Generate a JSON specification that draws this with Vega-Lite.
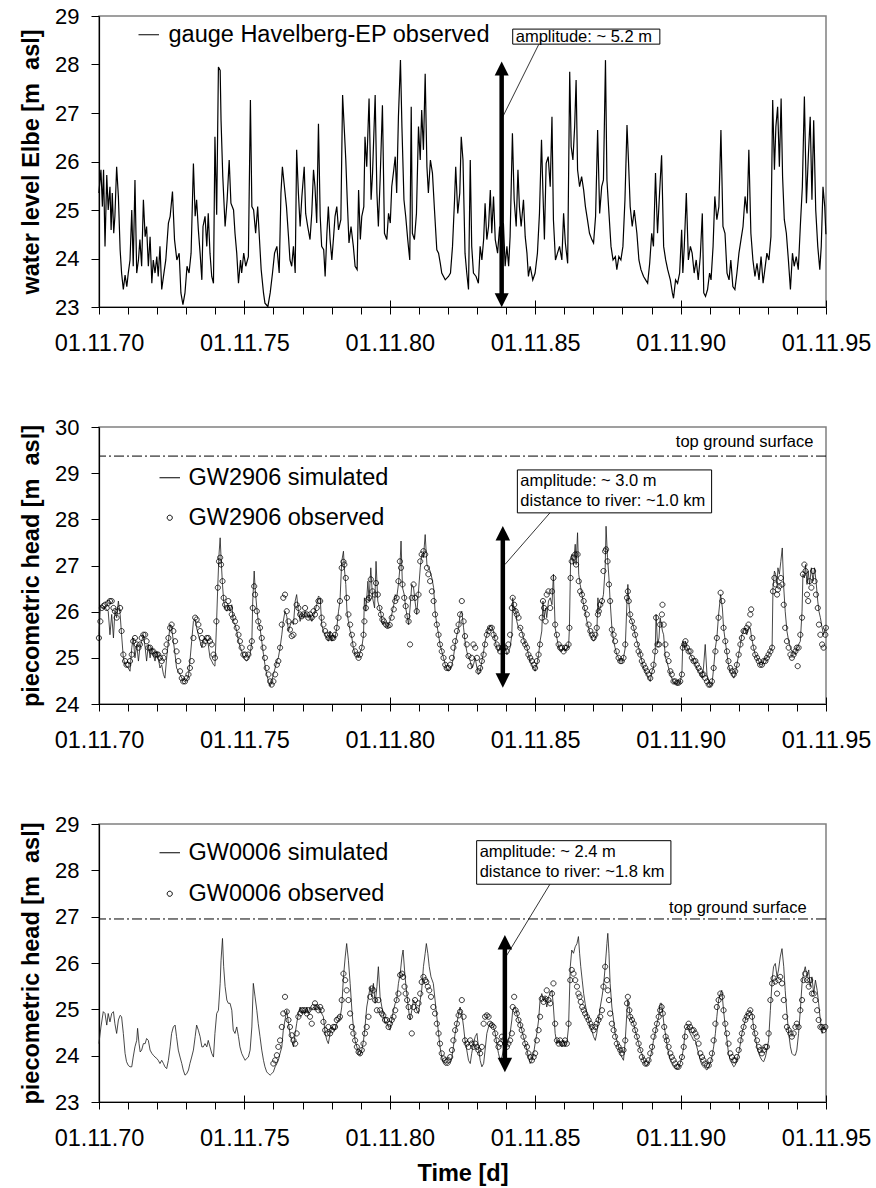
{
"$schema": "https://vega.github.io/schema/vega-lite/v6.json",
"background": "white",
"padding": {"left": 18, "top": 4, "right": 3, "bottom": 4},
"bounds": "flush",
"spacing": 120,
"resolve": {"scale": {"color": "independent", "shape": "independent"}, "legend": {"color": "independent", "shape": "independent"}},
"config": {
 "font": "Liberation Sans",
 "view": {"stroke": "#808080", "strokeWidth": 1.5},
 "axis": {"domainColor": "black", "domainWidth": 1.2, "tickColor": "black", "labelColor": "black", "titleColor": "black", "grid": false, "labelFont": "Liberation Sans", "titleFont": "Liberation Sans"},
 "legend": {"labelFont": "Liberation Sans", "labelColor": "black", "labelLimit": 0}
},
"datasets": {
"elbe": [
{"year":1970.83,"level":25.35},{"year":1970.90,"level":25.83},{"year":1970.95,"level":25.07},{"year":1970.99,"level":25.83},{"year":1971.04,"level":24.25},{"year":1971.10,"level":25.72},{"year":1971.15,"level":25.00},{"year":1971.21,"level":25.48},{"year":1971.25,"level":24.59},{"year":1971.29,"level":25.35},{"year":1971.34,"level":24.52},{"year":1971.38,"level":24.87},{"year":1971.44,"level":25.89},{"year":1971.50,"level":25.28},{"year":1971.56,"level":24.18},{"year":1971.61,"level":23.70},{"year":1971.67,"level":23.36},{"year":1971.73,"level":23.66},{"year":1971.79,"level":23.42},{"year":1971.84,"level":23.70},{"year":1971.90,"level":23.97},{"year":1971.96,"level":25.00},{"year":1972.01,"level":23.84},{"year":1972.07,"level":25.62},{"year":1972.13,"level":23.70},{"year":1972.19,"level":23.97},{"year":1972.24,"level":24.39},{"year":1972.30,"level":23.84},{"year":1972.36,"level":25.21},{"year":1972.42,"level":24.45},{"year":1972.47,"level":24.66},{"year":1972.53,"level":23.84},{"year":1972.59,"level":24.45},{"year":1972.65,"level":23.49},{"year":1972.70,"level":23.97},{"year":1972.76,"level":23.70},{"year":1972.82,"level":24.04},{"year":1972.87,"level":23.63},{"year":1972.93,"level":24.25},{"year":1972.99,"level":23.36},{"year":1973.05,"level":23.63},{"year":1973.13,"level":23.97},{"year":1973.22,"level":24.73},{"year":1973.28,"level":24.87},{"year":1973.36,"level":25.38},{"year":1973.43,"level":24.39},{"year":1973.51,"level":23.97},{"year":1973.59,"level":24.11},{"year":1973.65,"level":23.29},{"year":1973.72,"level":23.05},{"year":1973.79,"level":23.29},{"year":1973.86,"level":23.84},{"year":1973.93,"level":23.70},{"year":1974.00,"level":24.11},{"year":1974.08,"level":25.96},{"year":1974.14,"level":24.87},{"year":1974.19,"level":25.21},{"year":1974.25,"level":24.59},{"year":1974.31,"level":24.11},{"year":1974.37,"level":23.56},{"year":1974.41,"level":24.66},{"year":1974.48,"level":24.87},{"year":1974.54,"level":24.25},{"year":1974.59,"level":24.93},{"year":1974.65,"level":24.11},{"year":1974.71,"level":23.63},{"year":1974.77,"level":23.49},{"year":1974.82,"level":26.51},{"year":1974.88,"level":24.90},{"year":1974.94,"level":27.95},{"year":1975.00,"level":27.88},{"year":1975.03,"level":26.85},{"year":1975.09,"level":25.69},{"year":1975.17,"level":24.66},{"year":1975.24,"level":25.21},{"year":1975.31,"level":26.03},{"year":1975.37,"level":25.14},{"year":1975.46,"level":25.00},{"year":1975.51,"level":24.52},{"year":1975.57,"level":24.11},{"year":1975.63,"level":23.49},{"year":1975.70,"level":23.97},{"year":1975.74,"level":23.70},{"year":1975.81,"level":24.11},{"year":1975.88,"level":23.84},{"year":1975.97,"level":24.04},{"year":1976.04,"level":27.27},{"year":1976.09,"level":25.07},{"year":1976.15,"level":25.00},{"year":1976.22,"level":24.52},{"year":1976.29,"level":25.07},{"year":1976.34,"level":24.52},{"year":1976.41,"level":23.77},{"year":1976.49,"level":23.29},{"year":1976.54,"level":23.08},{"year":1976.64,"level":23.01},{"year":1976.72,"level":23.29},{"year":1976.80,"level":23.70},{"year":1976.87,"level":24.11},{"year":1976.95,"level":24.25},{"year":1977.03,"level":23.70},{"year":1977.09,"level":25.35},{"year":1977.14,"level":25.89},{"year":1977.21,"level":25.48},{"year":1977.28,"level":25.07},{"year":1977.35,"level":24.45},{"year":1977.40,"level":23.97},{"year":1977.46,"level":23.84},{"year":1977.52,"level":24.25},{"year":1977.58,"level":23.70},{"year":1977.63,"level":26.24},{"year":1977.69,"level":25.35},{"year":1977.75,"level":24.66},{"year":1977.81,"level":25.28},{"year":1977.89,"level":25.89},{"year":1977.94,"level":24.93},{"year":1978.01,"level":24.66},{"year":1978.09,"level":24.39},{"year":1978.15,"level":24.93},{"year":1978.21,"level":25.83},{"year":1978.26,"level":25.48},{"year":1978.32,"level":24.73},{"year":1978.38,"level":26.78},{"year":1978.44,"level":24.87},{"year":1978.49,"level":24.25},{"year":1978.56,"level":24.18},{"year":1978.61,"level":23.63},{"year":1978.67,"level":24.52},{"year":1978.72,"level":25.07},{"year":1978.78,"level":24.39},{"year":1978.84,"level":23.97},{"year":1978.90,"level":24.45},{"year":1978.95,"level":24.87},{"year":1979.01,"level":25.07},{"year":1979.07,"level":24.59},{"year":1979.15,"level":24.80},{"year":1979.21,"level":27.37},{"year":1979.27,"level":26.65},{"year":1979.32,"level":26.03},{"year":1979.37,"level":25.21},{"year":1979.43,"level":24.32},{"year":1979.50,"level":24.66},{"year":1979.58,"level":24.25},{"year":1979.64,"level":23.84},{"year":1979.71,"level":23.77},{"year":1979.76,"level":25.41},{"year":1979.82,"level":24.39},{"year":1979.87,"level":24.87},{"year":1979.94,"level":25.07},{"year":1979.98,"level":26.51},{"year":1980.04,"level":25.89},{"year":1980.12,"level":27.30},{"year":1980.19,"level":25.21},{"year":1980.24,"level":25.76},{"year":1980.33,"level":27.37},{"year":1980.39,"level":25.35},{"year":1980.44,"level":24.66},{"year":1980.50,"level":25.62},{"year":1980.58,"level":27.16},{"year":1980.65,"level":24.52},{"year":1980.73,"level":24.39},{"year":1980.79,"level":24.93},{"year":1980.85,"level":24.73},{"year":1980.90,"level":25.48},{"year":1980.97,"level":25.83},{"year":1981.02,"level":26.10},{"year":1981.07,"level":25.35},{"year":1981.13,"level":26.92},{"year":1981.20,"level":28.09},{"year":1981.25,"level":26.72},{"year":1981.32,"level":25.21},{"year":1981.38,"level":24.87},{"year":1981.45,"level":24.39},{"year":1981.52,"level":23.97},{"year":1981.57,"level":27.13},{"year":1981.61,"level":24.52},{"year":1981.68,"level":24.39},{"year":1981.75,"level":24.93},{"year":1981.82,"level":26.72},{"year":1981.88,"level":26.03},{"year":1981.93,"level":27.06},{"year":1981.99,"level":26.24},{"year":1982.05,"level":27.81},{"year":1982.11,"level":25.89},{"year":1982.16,"level":25.35},{"year":1982.23,"level":26.03},{"year":1982.30,"level":25.76},{"year":1982.37,"level":25.00},{"year":1982.45,"level":24.18},{"year":1982.51,"level":24.11},{"year":1982.57,"level":23.90},{"year":1982.62,"level":23.70},{"year":1982.74,"level":23.56},{"year":1982.85,"level":23.63},{"year":1982.92,"level":23.70},{"year":1982.99,"level":24.25},{"year":1983.06,"level":25.21},{"year":1983.10,"level":25.89},{"year":1983.17,"level":24.93},{"year":1983.24,"level":25.35},{"year":1983.29,"level":26.51},{"year":1983.35,"level":26.03},{"year":1983.42,"level":24.11},{"year":1983.48,"level":23.70},{"year":1983.54,"level":23.36},{"year":1983.60,"level":26.03},{"year":1983.65,"level":24.25},{"year":1983.71,"level":23.70},{"year":1983.80,"level":23.63},{"year":1983.88,"level":23.49},{"year":1983.94,"level":24.25},{"year":1984.00,"level":23.97},{"year":1984.06,"level":24.39},{"year":1984.11,"level":25.14},{"year":1984.17,"level":24.39},{"year":1984.23,"level":24.66},{"year":1984.29,"level":25.41},{"year":1984.34,"level":24.52},{"year":1984.40,"level":25.28},{"year":1984.46,"level":24.39},{"year":1984.54,"level":24.11},{"year":1984.61,"level":24.66},{"year":1984.68,"level":23.97},{"year":1984.74,"level":24.73},{"year":1984.80,"level":23.84},{"year":1984.86,"level":24.25},{"year":1984.92,"level":23.84},{"year":1984.97,"level":24.45},{"year":1985.05,"level":26.58},{"year":1985.11,"level":25.21},{"year":1985.18,"level":24.66},{"year":1985.24,"level":25.83},{"year":1985.29,"level":25.07},{"year":1985.35,"level":24.66},{"year":1985.43,"level":25.21},{"year":1985.49,"level":24.45},{"year":1985.55,"level":24.11},{"year":1985.60,"level":23.63},{"year":1985.66,"level":23.84},{"year":1985.75,"level":23.56},{"year":1985.83,"level":23.70},{"year":1985.91,"level":24.11},{"year":1985.98,"level":24.93},{"year":1986.05,"level":26.45},{"year":1986.10,"level":25.35},{"year":1986.15,"level":24.39},{"year":1986.21,"level":25.96},{"year":1986.28,"level":26.10},{"year":1986.35,"level":25.48},{"year":1986.41,"level":26.92},{"year":1986.46,"level":24.80},{"year":1986.53,"level":23.97},{"year":1986.60,"level":24.11},{"year":1986.67,"level":24.25},{"year":1986.75,"level":23.97},{"year":1986.81,"level":24.93},{"year":1986.87,"level":24.32},{"year":1986.95,"level":23.90},{"year":1987.02,"level":27.85},{"year":1987.07,"level":26.31},{"year":1987.13,"level":26.03},{"year":1987.19,"level":26.72},{"year":1987.24,"level":27.68},{"year":1987.29,"level":25.83},{"year":1987.36,"level":25.48},{"year":1987.43,"level":25.69},{"year":1987.50,"level":25.41},{"year":1987.56,"level":25.07},{"year":1987.63,"level":24.80},{"year":1987.70,"level":24.52},{"year":1987.78,"level":24.39},{"year":1987.84,"level":24.32},{"year":1987.91,"level":24.87},{"year":1987.98,"level":26.65},{"year":1988.05,"level":24.93},{"year":1988.12,"level":25.48},{"year":1988.18,"level":25.62},{"year":1988.25,"level":28.09},{"year":1988.30,"level":25.62},{"year":1988.37,"level":24.93},{"year":1988.44,"level":24.25},{"year":1988.51,"level":23.97},{"year":1988.59,"level":24.04},{"year":1988.64,"level":23.77},{"year":1988.71,"level":24.04},{"year":1988.78,"level":23.97},{"year":1988.85,"level":24.25},{"year":1988.92,"level":25.21},{"year":1988.99,"level":26.75},{"year":1989.04,"level":26.03},{"year":1989.10,"level":25.07},{"year":1989.17,"level":24.66},{"year":1989.24,"level":25.00},{"year":1989.33,"level":24.52},{"year":1989.40,"level":23.97},{"year":1989.47,"level":23.77},{"year":1989.56,"level":23.63},{"year":1989.63,"level":23.56},{"year":1989.70,"level":23.49},{"year":1989.77,"level":23.90},{"year":1989.84,"level":24.52},{"year":1989.90,"level":24.25},{"year":1989.97,"level":25.76},{"year":1990.04,"level":24.52},{"year":1990.11,"level":25.35},{"year":1990.18,"level":26.13},{"year":1990.25,"level":24.25},{"year":1990.32,"level":23.97},{"year":1990.39,"level":23.77},{"year":1990.48,"level":23.56},{"year":1990.55,"level":23.29},{"year":1990.59,"level":23.18},{"year":1990.66,"level":23.56},{"year":1990.73,"level":23.49},{"year":1990.80,"level":23.70},{"year":1990.87,"level":24.59},{"year":1990.91,"level":23.70},{"year":1990.96,"level":24.25},{"year":1991.03,"level":25.35},{"year":1991.10,"level":23.97},{"year":1991.17,"level":24.25},{"year":1991.23,"level":24.11},{"year":1991.30,"level":23.70},{"year":1991.37,"level":23.97},{"year":1991.44,"level":23.56},{"year":1991.51,"level":24.04},{"year":1991.58,"level":24.93},{"year":1991.63,"level":23.29},{"year":1991.69,"level":23.22},{"year":1991.76,"level":23.36},{"year":1991.83,"level":23.70},{"year":1991.88,"level":23.56},{"year":1991.95,"level":24.25},{"year":1992.01,"level":25.28},{"year":1992.08,"level":24.80},{"year":1992.15,"level":25.07},{"year":1992.22,"level":26.65},{"year":1992.29,"level":24.66},{"year":1992.36,"level":24.52},{"year":1992.43,"level":23.70},{"year":1992.50,"level":23.56},{"year":1992.56,"level":23.97},{"year":1992.63,"level":23.42},{"year":1992.70,"level":23.36},{"year":1992.77,"level":23.70},{"year":1992.84,"level":24.11},{"year":1992.91,"level":24.39},{"year":1992.98,"level":24.66},{"year":1993.05,"level":25.28},{"year":1993.12,"level":24.93},{"year":1993.18,"level":26.24},{"year":1993.25,"level":24.52},{"year":1993.32,"level":23.97},{"year":1993.39,"level":23.63},{"year":1993.46,"level":23.90},{"year":1993.53,"level":23.56},{"year":1993.60,"level":24.04},{"year":1993.67,"level":23.49},{"year":1993.73,"level":23.77},{"year":1993.80,"level":24.11},{"year":1993.87,"level":23.97},{"year":1993.94,"level":24.45},{"year":1994.00,"level":27.27},{"year":1994.06,"level":25.83},{"year":1994.11,"level":26.72},{"year":1994.17,"level":27.13},{"year":1994.23,"level":25.89},{"year":1994.29,"level":27.30},{"year":1994.34,"level":25.69},{"year":1994.40,"level":24.80},{"year":1994.47,"level":24.52},{"year":1994.54,"level":23.97},{"year":1994.61,"level":23.36},{"year":1994.68,"level":24.11},{"year":1994.74,"level":23.84},{"year":1994.81,"level":24.04},{"year":1994.88,"level":23.77},{"year":1994.95,"level":24.66},{"year":1995.02,"level":25.48},{"year":1995.09,"level":27.34},{"year":1995.16,"level":25.14},{"year":1995.23,"level":26.17},{"year":1995.29,"level":26.92},{"year":1995.35,"level":25.21},{"year":1995.41,"level":26.85},{"year":1995.48,"level":25.00},{"year":1995.55,"level":24.25},{"year":1995.62,"level":23.77},{"year":1995.67,"level":24.25},{"year":1995.73,"level":25.48},{"year":1995.79,"level":25.07},{"year":1995.83,"level":24.50}
],
"gw2906": [
{"year":1970.83,"sim":25.50,"obs":25.43},{"year":1970.88,"sim":26.12,"obs":25.79},{"year":1970.93,"sim":26.10,"obs":26.08},{"year":1970.98,"sim":26.08,"obs":26.12},{"year":1971.04,"sim":26.08,"obs":26.15},{"year":1971.10,"sim":26.05,"obs":26.08},{"year":1971.15,"sim":26.01,"obs":26.19},{"year":1971.21,"sim":25.50,"obs":26.23},{"year":1971.27,"sim":25.94,"obs":26.23},{"year":1971.33,"sim":25.43,"obs":26.08},{"year":1971.38,"sim":26.01,"obs":26.01},{"year":1971.44,"sim":25.87,"obs":25.87},{"year":1971.50,"sim":26.23,"obs":26.01},{"year":1971.56,"sim":25.94,"obs":26.08},{"year":1971.61,"sim":25.50,"obs":25.58},{"year":1971.67,"sim":25.00,"obs":25.07},{"year":1971.73,"sim":24.85,"obs":24.93},{"year":1971.78,"sim":24.82,"obs":24.85},{"year":1971.84,"sim":24.78,"obs":24.85},{"year":1971.90,"sim":24.71,"obs":24.93},{"year":1971.96,"sim":25.22,"obs":25.07},{"year":1972.01,"sim":25.43,"obs":25.36},{"year":1972.07,"sim":25.00,"obs":25.43},{"year":1972.13,"sim":25.29,"obs":25.29},{"year":1972.19,"sim":24.93,"obs":25.22},{"year":1972.24,"sim":25.22,"obs":25.29},{"year":1972.30,"sim":25.36,"obs":25.43},{"year":1972.36,"sim":25.50,"obs":25.50},{"year":1972.42,"sim":25.22,"obs":25.50},{"year":1972.47,"sim":24.93,"obs":25.36},{"year":1972.53,"sim":25.29,"obs":25.22},{"year":1972.59,"sim":25.00,"obs":25.22},{"year":1972.65,"sim":25.22,"obs":25.14},{"year":1972.70,"sim":25.07,"obs":25.14},{"year":1972.76,"sim":24.93,"obs":25.07},{"year":1972.82,"sim":25.14,"obs":25.07},{"year":1972.87,"sim":25.00,"obs":25.07},{"year":1972.93,"sim":24.78,"obs":25.00},{"year":1972.99,"sim":24.85,"obs":24.93},{"year":1973.05,"sim":24.64,"obs":25.00},{"year":1973.10,"sim":24.56,"obs":25.14},{"year":1973.16,"sim":25.00,"obs":25.29},{"year":1973.22,"sim":25.36,"obs":25.43},{"year":1973.28,"sim":25.72,"obs":25.65},{"year":1973.33,"sim":25.65,"obs":25.72},{"year":1973.39,"sim":25.36,"obs":25.58},{"year":1973.45,"sim":25.07,"obs":25.36},{"year":1973.50,"sim":24.78,"obs":25.14},{"year":1973.56,"sim":24.71,"obs":24.93},{"year":1973.62,"sim":24.64,"obs":24.71},{"year":1973.68,"sim":24.56,"obs":24.56},{"year":1973.73,"sim":24.51,"obs":24.49},{"year":1973.79,"sim":24.49,"obs":24.49},{"year":1973.85,"sim":24.53,"obs":24.56},{"year":1973.91,"sim":24.60,"obs":24.64},{"year":1973.96,"sim":24.93,"obs":24.78},{"year":1974.02,"sim":25.36,"obs":24.93},{"year":1974.08,"sim":25.79,"obs":25.43},{"year":1974.14,"sim":25.83,"obs":25.87},{"year":1974.19,"sim":25.65,"obs":25.83},{"year":1974.25,"sim":25.50,"obs":25.72},{"year":1974.31,"sim":25.36,"obs":25.58},{"year":1974.37,"sim":25.22,"obs":25.43},{"year":1974.42,"sim":25.36,"obs":25.29},{"year":1974.48,"sim":25.43,"obs":25.36},{"year":1974.54,"sim":25.36,"obs":25.43},{"year":1974.59,"sim":25.29,"obs":25.43},{"year":1974.65,"sim":25.00,"obs":25.36},{"year":1974.71,"sim":24.93,"obs":25.29},{"year":1974.77,"sim":24.85,"obs":25.07},{"year":1974.82,"sim":24.82,"obs":25.00},{"year":1974.87,"sim":25.65,"obs":25.79},{"year":1974.92,"sim":26.59,"obs":26.52},{"year":1974.96,"sim":27.24,"obs":27.09},{"year":1975.00,"sim":27.60,"obs":27.17},{"year":1975.03,"sim":27.17,"obs":27.02},{"year":1975.08,"sim":26.59,"obs":26.66},{"year":1975.12,"sim":26.23,"obs":26.30},{"year":1975.17,"sim":26.08,"obs":26.15},{"year":1975.23,"sim":26.01,"obs":26.08},{"year":1975.28,"sim":26.15,"obs":26.23},{"year":1975.34,"sim":26.01,"obs":26.08},{"year":1975.40,"sim":26.15,"obs":25.94},{"year":1975.45,"sim":25.79,"obs":25.87},{"year":1975.51,"sim":25.72,"obs":25.79},{"year":1975.57,"sim":25.58,"obs":25.65},{"year":1975.63,"sim":25.36,"obs":25.50},{"year":1975.68,"sim":25.25,"obs":25.36},{"year":1975.74,"sim":25.14,"obs":25.22},{"year":1975.80,"sim":25.00,"obs":25.07},{"year":1975.86,"sim":24.96,"obs":25.07},{"year":1975.91,"sim":24.93,"obs":25.00},{"year":1975.97,"sim":25.00,"obs":25.07},{"year":1976.03,"sim":25.07,"obs":25.22},{"year":1976.09,"sim":25.36,"obs":25.36},{"year":1976.12,"sim":26.23,"obs":26.08},{"year":1976.17,"sim":26.88,"obs":26.55},{"year":1976.20,"sim":26.52,"obs":26.37},{"year":1976.26,"sim":26.08,"obs":26.01},{"year":1976.31,"sim":25.79,"obs":25.79},{"year":1976.37,"sim":25.65,"obs":25.65},{"year":1976.43,"sim":25.36,"obs":25.43},{"year":1976.49,"sim":25.07,"obs":25.22},{"year":1976.54,"sim":24.85,"obs":25.00},{"year":1976.60,"sim":24.64,"obs":24.78},{"year":1976.66,"sim":24.49,"obs":24.64},{"year":1976.72,"sim":24.38,"obs":24.49},{"year":1976.77,"sim":24.49,"obs":24.42},{"year":1976.83,"sim":24.64,"obs":24.49},{"year":1976.89,"sim":24.78,"obs":24.64},{"year":1976.95,"sim":24.93,"obs":24.85},{"year":1977.00,"sim":25.00,"obs":24.93},{"year":1977.06,"sim":25.22,"obs":25.22},{"year":1977.12,"sim":25.50,"obs":25.72},{"year":1977.17,"sim":25.79,"obs":26.30},{"year":1977.23,"sim":26.01,"obs":26.37},{"year":1977.29,"sim":25.90,"obs":26.01},{"year":1977.35,"sim":25.58,"obs":25.79},{"year":1977.40,"sim":25.69,"obs":25.61},{"year":1977.46,"sim":25.79,"obs":25.47},{"year":1977.52,"sim":25.72,"obs":25.50},{"year":1977.58,"sim":26.23,"obs":25.79},{"year":1977.63,"sim":26.37,"obs":26.15},{"year":1977.69,"sim":26.01,"obs":26.08},{"year":1977.75,"sim":25.79,"obs":25.94},{"year":1977.81,"sim":25.94,"obs":25.90},{"year":1977.86,"sim":25.87,"obs":25.94},{"year":1977.92,"sim":26.01,"obs":26.08},{"year":1977.98,"sim":25.94,"obs":25.94},{"year":1978.03,"sim":25.87,"obs":25.87},{"year":1978.09,"sim":25.94,"obs":25.94},{"year":1978.15,"sim":25.79,"obs":25.87},{"year":1978.21,"sim":25.90,"obs":26.01},{"year":1978.26,"sim":26.01,"obs":25.94},{"year":1978.32,"sim":26.15,"obs":26.08},{"year":1978.38,"sim":26.34,"obs":26.23},{"year":1978.44,"sim":26.30,"obs":26.23},{"year":1978.49,"sim":25.72,"obs":25.87},{"year":1978.55,"sim":25.58,"obs":25.72},{"year":1978.61,"sim":25.50,"obs":25.58},{"year":1978.67,"sim":25.43,"obs":25.50},{"year":1978.72,"sim":25.36,"obs":25.43},{"year":1978.78,"sim":25.58,"obs":25.50},{"year":1978.84,"sim":25.36,"obs":25.43},{"year":1978.89,"sim":25.50,"obs":25.43},{"year":1978.95,"sim":25.43,"obs":25.50},{"year":1979.01,"sim":25.65,"obs":25.65},{"year":1979.07,"sim":26.01,"obs":25.87},{"year":1979.12,"sim":26.23,"obs":26.23},{"year":1979.18,"sim":27.09,"obs":26.95},{"year":1979.24,"sim":27.31,"obs":27.08},{"year":1979.27,"sim":26.95,"obs":27.02},{"year":1979.32,"sim":26.59,"obs":26.73},{"year":1979.36,"sim":26.01,"obs":26.30},{"year":1979.41,"sim":25.79,"obs":25.94},{"year":1979.47,"sim":25.58,"obs":25.72},{"year":1979.53,"sim":25.43,"obs":25.50},{"year":1979.58,"sim":25.22,"obs":25.29},{"year":1979.64,"sim":25.07,"obs":25.14},{"year":1979.70,"sim":25.04,"obs":25.07},{"year":1979.76,"sim":25.00,"obs":25.00},{"year":1979.81,"sim":25.11,"obs":25.07},{"year":1979.87,"sim":25.22,"obs":25.22},{"year":1979.93,"sim":25.50,"obs":25.50},{"year":1979.96,"sim":26.30,"obs":25.79},{"year":1980.01,"sim":26.01,"obs":26.08},{"year":1980.08,"sim":26.66,"obs":26.26},{"year":1980.12,"sim":26.23,"obs":26.30},{"year":1980.18,"sim":26.95,"obs":26.70},{"year":1980.24,"sim":26.30,"obs":26.44},{"year":1980.31,"sim":26.08,"obs":26.37},{"year":1980.36,"sim":27.09,"obs":26.62},{"year":1980.42,"sim":26.23,"obs":26.37},{"year":1980.48,"sim":26.08,"obs":26.08},{"year":1980.53,"sim":25.94,"obs":25.94},{"year":1980.58,"sim":25.72,"obs":25.83},{"year":1980.63,"sim":25.79,"obs":25.79},{"year":1980.70,"sim":25.72,"obs":25.72},{"year":1980.76,"sim":25.65,"obs":25.69},{"year":1980.83,"sim":25.79,"obs":25.71},{"year":1980.90,"sim":25.94,"obs":25.87},{"year":1980.97,"sim":26.15,"obs":26.05},{"year":1981.02,"sim":26.37,"obs":26.23},{"year":1981.07,"sim":26.30,"obs":26.30},{"year":1981.13,"sim":26.59,"obs":26.66},{"year":1981.18,"sim":26.95,"obs":27.09},{"year":1981.22,"sim":27.53,"obs":26.95},{"year":1981.27,"sim":26.52,"obs":26.59},{"year":1981.33,"sim":26.37,"obs":26.30},{"year":1981.38,"sim":26.08,"obs":26.12},{"year":1981.44,"sim":25.87,"obs":25.90},{"year":1981.48,"sim":25.72,"obs":25.79},{"year":1981.53,"sim":26.08,"obs":25.29},{"year":1981.59,"sim":26.59,"obs":26.30},{"year":1981.65,"sim":26.52,"obs":26.59},{"year":1981.70,"sim":26.23,"obs":26.30},{"year":1981.76,"sim":25.94,"obs":26.01},{"year":1981.82,"sim":26.44,"obs":26.37},{"year":1981.88,"sim":26.95,"obs":27.09},{"year":1981.93,"sim":27.24,"obs":27.24},{"year":1981.99,"sim":27.17,"obs":27.31},{"year":1982.05,"sim":27.67,"obs":27.24},{"year":1982.11,"sim":27.02,"obs":26.95},{"year":1982.16,"sim":26.95,"obs":26.81},{"year":1982.22,"sim":26.88,"obs":26.66},{"year":1982.28,"sim":26.73,"obs":26.44},{"year":1982.34,"sim":26.52,"obs":26.23},{"year":1982.39,"sim":26.01,"obs":25.94},{"year":1982.45,"sim":25.72,"obs":25.72},{"year":1982.51,"sim":25.50,"obs":25.50},{"year":1982.56,"sim":25.29,"obs":25.29},{"year":1982.62,"sim":25.14,"obs":25.14},{"year":1982.68,"sim":25.00,"obs":25.00},{"year":1982.74,"sim":24.85,"obs":24.85},{"year":1982.79,"sim":24.78,"obs":24.78},{"year":1982.85,"sim":24.71,"obs":24.78},{"year":1982.91,"sim":24.75,"obs":24.85},{"year":1982.97,"sim":24.85,"obs":25.00},{"year":1983.02,"sim":25.00,"obs":25.22},{"year":1983.08,"sim":25.29,"obs":25.36},{"year":1983.14,"sim":25.50,"obs":25.58},{"year":1983.20,"sim":25.65,"obs":25.72},{"year":1983.25,"sim":25.94,"obs":25.94},
{"year":1983.31,"sim":26.01,"obs":26.23},{"year":1983.37,"sim":25.65,"obs":25.79},{"year":1983.42,"sim":25.36,"obs":25.47},{"year":1983.48,"sim":25.14,"obs":25.29},{"year":1983.54,"sim":25.00,"obs":25.04},{"year":1983.60,"sim":24.93,"obs":24.82},{"year":1983.65,"sim":24.78,"obs":25.00},{"year":1983.71,"sim":24.85,"obs":25.29},{"year":1983.77,"sim":25.00,"obs":25.22},{"year":1983.83,"sim":24.78,"obs":25.00},{"year":1983.88,"sim":24.64,"obs":24.71},{"year":1983.94,"sim":24.71,"obs":24.78},{"year":1984.00,"sim":24.93,"obs":24.93},{"year":1984.06,"sim":25.14,"obs":25.07},{"year":1984.11,"sim":25.36,"obs":25.29},{"year":1984.17,"sim":25.50,"obs":25.50},{"year":1984.23,"sim":25.65,"obs":25.58},{"year":1984.28,"sim":25.69,"obs":25.65},{"year":1984.34,"sim":25.65,"obs":25.65},{"year":1984.40,"sim":25.58,"obs":25.50},{"year":1984.46,"sim":25.36,"obs":25.43},{"year":1984.51,"sim":25.22,"obs":25.29},{"year":1984.57,"sim":25.14,"obs":25.22},{"year":1984.63,"sim":25.22,"obs":25.14},{"year":1984.69,"sim":25.29,"obs":25.22},{"year":1984.74,"sim":25.14,"obs":25.22},{"year":1984.80,"sim":25.22,"obs":25.22},{"year":1984.86,"sim":25.07,"obs":25.14},{"year":1984.91,"sim":25.14,"obs":25.29},{"year":1984.97,"sim":25.22,"obs":25.50},{"year":1985.03,"sim":25.50,"obs":26.08},{"year":1985.06,"sim":26.30,"obs":26.30},{"year":1985.11,"sim":26.01,"obs":26.15},{"year":1985.16,"sim":26.08,"obs":26.01},{"year":1985.20,"sim":25.79,"obs":25.94},{"year":1985.26,"sim":25.65,"obs":25.87},{"year":1985.32,"sim":25.65,"obs":25.65},{"year":1985.37,"sim":25.58,"obs":25.50},{"year":1985.43,"sim":25.43,"obs":25.36},{"year":1985.49,"sim":25.29,"obs":25.29},{"year":1985.55,"sim":25.22,"obs":25.22},{"year":1985.60,"sim":25.07,"obs":25.07},{"year":1985.66,"sim":24.93,"obs":25.00},{"year":1985.72,"sim":24.85,"obs":24.93},{"year":1985.78,"sim":24.78,"obs":24.85},{"year":1985.83,"sim":24.71,"obs":24.78},{"year":1985.89,"sim":24.85,"obs":24.93},{"year":1985.95,"sim":25.07,"obs":25.07},{"year":1986.00,"sim":25.36,"obs":25.29},{"year":1986.06,"sim":25.58,"obs":25.87},{"year":1986.10,"sim":26.23,"obs":26.23},{"year":1986.14,"sim":25.87,"obs":26.08},{"year":1986.19,"sim":26.08,"obs":25.79},{"year":1986.23,"sim":25.87,"obs":26.37},{"year":1986.29,"sim":26.23,"obs":26.44},{"year":1986.35,"sim":26.30,"obs":26.08},{"year":1986.41,"sim":26.15,"obs":26.44},{"year":1986.46,"sim":26.81,"obs":26.73},{"year":1986.52,"sim":25.65,"obs":25.72},{"year":1986.58,"sim":25.43,"obs":25.50},{"year":1986.64,"sim":25.22,"obs":25.29},{"year":1986.69,"sim":25.14,"obs":25.22},{"year":1986.75,"sim":25.14,"obs":25.22},{"year":1986.81,"sim":25.22,"obs":25.14},{"year":1986.86,"sim":25.14,"obs":25.22},{"year":1986.92,"sim":25.22,"obs":25.22},{"year":1986.98,"sim":25.22,"obs":25.29},{"year":1987.01,"sim":25.65,"obs":25.65},{"year":1987.05,"sim":27.09,"obs":26.73},{"year":1987.09,"sim":27.24,"obs":27.09},{"year":1987.15,"sim":27.02,"obs":27.17},{"year":1987.21,"sim":27.46,"obs":27.24},{"year":1987.24,"sim":27.02,"obs":27.02},{"year":1987.29,"sim":27.71,"obs":27.24},{"year":1987.33,"sim":26.81,"obs":26.66},{"year":1987.38,"sim":26.59,"obs":26.44},{"year":1987.44,"sim":26.37,"obs":26.37},{"year":1987.50,"sim":26.15,"obs":26.23},{"year":1987.55,"sim":26.01,"obs":26.08},{"year":1987.61,"sim":25.79,"obs":25.94},{"year":1987.67,"sim":25.65,"obs":25.72},{"year":1987.73,"sim":25.50,"obs":25.58},{"year":1987.78,"sim":25.43,"obs":25.50},{"year":1987.84,"sim":25.36,"obs":25.43},{"year":1987.90,"sim":25.43,"obs":25.50},{"year":1987.95,"sim":25.50,"obs":25.65},{"year":1987.99,"sim":26.30,"obs":25.94},{"year":1988.02,"sim":26.01,"obs":26.01},{"year":1988.07,"sim":26.08,"obs":26.15},{"year":1988.13,"sim":26.23,"obs":26.23},{"year":1988.18,"sim":26.37,"obs":26.88},{"year":1988.24,"sim":26.95,"obs":27.31},{"year":1988.27,"sim":27.85,"obs":27.35},{"year":1988.32,"sim":27.17,"obs":27.09},{"year":1988.37,"sim":26.73,"obs":26.59},{"year":1988.41,"sim":26.23,"obs":26.23},{"year":1988.47,"sim":25.65,"obs":25.61},{"year":1988.53,"sim":25.36,"obs":25.50},{"year":1988.58,"sim":25.22,"obs":25.36},{"year":1988.64,"sim":25.07,"obs":25.14},{"year":1988.70,"sim":25.00,"obs":25.00},{"year":1988.76,"sim":24.93,"obs":24.93},{"year":1988.81,"sim":24.93,"obs":24.93},{"year":1988.87,"sim":25.00,"obs":25.00},{"year":1988.93,"sim":25.22,"obs":25.29},{"year":1988.99,"sim":26.23,"obs":26.30},{"year":1989.02,"sim":26.59,"obs":26.44},{"year":1989.05,"sim":26.23,"obs":26.23},{"year":1989.10,"sim":25.87,"obs":25.94},{"year":1989.16,"sim":25.79,"obs":25.79},{"year":1989.22,"sim":25.65,"obs":25.65},{"year":1989.27,"sim":25.50,"obs":25.50},{"year":1989.33,"sim":25.36,"obs":25.29},{"year":1989.39,"sim":25.22,"obs":25.14},{"year":1989.45,"sim":25.07,"obs":25.07},{"year":1989.50,"sim":24.93,"obs":24.93},{"year":1989.56,"sim":24.78,"obs":24.85},{"year":1989.62,"sim":24.71,"obs":24.78},{"year":1989.67,"sim":24.64,"obs":24.71},{"year":1989.73,"sim":24.56,"obs":24.64},{"year":1989.79,"sim":24.49,"obs":24.56},{"year":1989.85,"sim":24.71,"obs":24.71},{"year":1989.90,"sim":24.78,"obs":24.85},{"year":1989.96,"sim":25.14,"obs":25.14},{"year":1989.99,"sim":25.94,"obs":25.87},{"year":1990.04,"sim":25.29,"obs":25.29},{"year":1990.09,"sim":25.43,"obs":25.29},{"year":1990.13,"sim":25.87,"obs":25.72},{"year":1990.19,"sim":25.65,"obs":25.94},{"year":1990.21,"sim":25.58,"obs":26.15},{"year":1990.25,"sim":25.50,"obs":25.72},{"year":1990.31,"sim":25.00,"obs":25.29},{"year":1990.36,"sim":24.93,"obs":25.07},{"year":1990.42,"sim":24.78,"obs":24.93},{"year":1990.48,"sim":24.64,"obs":24.71},{"year":1990.53,"sim":24.56,"obs":24.64},{"year":1990.59,"sim":24.46,"obs":24.49},{"year":1990.65,"sim":24.46,"obs":24.49},{"year":1990.71,"sim":24.42,"obs":24.46},{"year":1990.76,"sim":24.49,"obs":24.46},{"year":1990.82,"sim":24.46,"obs":24.49},{"year":1990.88,"sim":24.71,"obs":24.64},{"year":1990.91,"sim":25.36,"obs":25.22},{"year":1990.96,"sim":25.22,"obs":25.29},{"year":1991.00,"sim":25.36,"obs":25.36},{"year":1991.05,"sim":25.22,"obs":25.22},{"year":1991.11,"sim":25.14,"obs":25.14},{"year":1991.17,"sim":25.07,"obs":25.14},{"year":1991.22,"sim":25.00,"obs":25.00},{"year":1991.28,"sim":24.93,"obs":24.93},{"year":1991.34,"sim":24.85,"obs":24.93},{"year":1991.39,"sim":24.78,"obs":24.85},{"year":1991.45,"sim":24.71,"obs":24.78},{"year":1991.51,"sim":24.64,"obs":24.71},{"year":1991.57,"sim":24.56,"obs":24.64},{"year":1991.62,"sim":24.78,"obs":24.64},{"year":1991.68,"sim":25.29,"obs":24.56},{"year":1991.74,"sim":24.64,"obs":24.49},{"year":1991.80,"sim":24.49,"obs":24.42},{"year":1991.85,"sim":24.38,"obs":24.42},{"year":1991.91,"sim":24.42,"obs":24.49},{"year":1991.97,"sim":24.78,"obs":24.78},{"year":1992.03,"sim":25.22,"obs":25.14},{"year":1992.08,"sim":25.43,"obs":25.43},{"year":1992.14,"sim":25.94,"obs":25.87},{"year":1992.21,"sim":26.37,"obs":26.41},{"year":1992.27,"sim":26.08,"obs":26.23},{"year":1992.31,"sim":25.65,"obs":25.65},{"year":1992.37,"sim":25.36,"obs":25.36},{"year":1992.43,"sim":25.07,"obs":25.14},{"year":1992.48,"sim":24.85,"obs":24.93},{"year":1992.54,"sim":24.71,"obs":24.78},{"year":1992.60,"sim":24.64,"obs":24.71},{"year":1992.66,"sim":24.56,"obs":24.64},{"year":1992.71,"sim":24.64,"obs":24.71},{"year":1992.77,"sim":24.85,"obs":24.85},{"year":1992.83,"sim":25.07,"obs":25.07},{"year":1992.89,"sim":25.29,"obs":25.29},{"year":1992.94,"sim":25.50,"obs":25.43},{"year":1993.00,"sim":25.58,"obs":25.58},{"year":1993.06,"sim":25.65,"obs":25.58},{"year":1993.11,"sim":25.50,"obs":25.65},{"year":1993.17,"sim":25.65,"obs":25.72},{"year":1993.23,"sim":25.65,"obs":25.94},{"year":1993.26,"sim":25.50,"obs":26.05},{"year":1993.30,"sim":25.36,"obs":25.43},{"year":1993.34,"sim":25.22,"obs":25.22},{"year":1993.40,"sim":25.07,"obs":25.07},{"year":1993.46,"sim":25.00,"obs":25.00},{"year":1993.52,"sim":24.93,"obs":24.93},{"year":1993.57,"sim":24.85,"obs":24.85},{"year":1993.63,"sim":24.85,"obs":24.85},{"year":1993.69,"sim":24.93,"obs":24.93},{"year":1993.75,"sim":25.00,"obs":24.93},{"year":1993.80,"sim":25.00,"obs":25.00},{"year":1993.86,"sim":25.07,"obs":25.07},{"year":1993.92,"sim":25.14,"obs":25.14},{"year":1993.98,"sim":25.22,"obs":25.22},{"year":1994.01,"sim":26.52,"obs":26.44},{"year":1994.06,"sim":26.88,"obs":26.73},{"year":1994.10,"sim":26.81,"obs":26.59},{"year":1994.15,"sim":26.59,"obs":26.37},{"year":1994.18,"sim":26.95,"obs":26.48},{"year":1994.23,"sim":26.81,"obs":26.55},{"year":1994.28,"sim":27.09,"obs":26.73},{"year":1994.33,"sim":27.38,"obs":26.59},{"year":1994.38,"sim":26.52,"obs":26.15},{"year":1994.43,"sim":26.01,"obs":25.65},{"year":1994.49,"sim":25.58,"obs":25.36},{"year":1994.55,"sim":25.36,"obs":25.22},{"year":1994.61,"sim":25.22,"obs":25.07},{"year":1994.66,"sim":25.14,"obs":25.00},{"year":1994.72,"sim":25.14,"obs":25.07},{"year":1994.78,"sim":25.07,"obs":25.14},{"year":1994.83,"sim":25.22,"obs":25.22},{"year":1994.86,"sim":25.22,"obs":24.82},{"year":1994.89,"sim":25.29,"obs":25.22},{"year":1994.95,"sim":25.36,"obs":25.50},{"year":1995.01,"sim":26.01,"obs":25.87},{"year":1995.04,"sim":26.81,"obs":26.81},{"year":1995.09,"sim":26.73,"obs":27.02},{"year":1995.13,"sim":27.02,"obs":26.88},{"year":1995.18,"sim":26.59,"obs":26.37},{"year":1995.22,"sim":26.88,"obs":26.23},{"year":1995.27,"sim":26.59,"obs":26.66},{"year":1995.33,"sim":26.95,"obs":26.52},{"year":1995.39,"sim":26.66,"obs":26.88},{"year":1995.44,"sim":26.95,"obs":26.66},{"year":1995.49,"sim":26.66,"obs":26.37},{"year":1995.55,"sim":26.23,"obs":26.08},{"year":1995.59,"sim":26.01,"obs":25.72},{"year":1995.64,"sim":25.87,"obs":25.50},{"year":1995.70,"sim":25.65,"obs":25.29},{"year":1995.75,"sim":25.50,"obs":25.22},{"year":1995.81,"sim":25.65,"obs":25.50},{"year":1995.83,"sim":25.65,"obs":25.65}
],
"gw0006": [
{"year":1970.83,"sim":24.26},{"year":1970.90,"sim":24.62},{"year":1970.98,"sim":24.95},{"year":1971.04,"sim":24.91},{"year":1971.10,"sim":24.66},{"year":1971.15,"sim":24.91},{"year":1971.21,"sim":24.73},{"year":1971.27,"sim":24.91},{"year":1971.33,"sim":24.95},{"year":1971.38,"sim":24.69},{"year":1971.44,"sim":24.48},{"year":1971.50,"sim":24.77},{"year":1971.56,"sim":24.87},{"year":1971.61,"sim":24.84},{"year":1971.67,"sim":24.48},{"year":1971.73,"sim":24.05},{"year":1971.78,"sim":23.87},{"year":1971.84,"sim":23.79},{"year":1971.90,"sim":23.76},{"year":1971.96,"sim":23.76},{"year":1972.01,"sim":23.97},{"year":1972.07,"sim":24.19},{"year":1972.13,"sim":24.33},{"year":1972.16,"sim":24.59},{"year":1972.21,"sim":24.26},{"year":1972.25,"sim":24.08},{"year":1972.30,"sim":24.12},{"year":1972.36,"sim":24.26},{"year":1972.42,"sim":24.26},{"year":1972.47,"sim":24.37},{"year":1972.53,"sim":24.33},{"year":1972.59,"sim":24.12},{"year":1972.65,"sim":24.05},{"year":1972.70,"sim":24.01},{"year":1972.76,"sim":23.97},{"year":1972.82,"sim":23.94},{"year":1972.87,"sim":23.90},{"year":1972.93,"sim":23.83},{"year":1972.99,"sim":23.90},{"year":1973.05,"sim":23.83},{"year":1973.10,"sim":23.76},{"year":1973.16,"sim":23.72},{"year":1973.22,"sim":23.90},{"year":1973.28,"sim":24.19},{"year":1973.33,"sim":24.48},{"year":1973.39,"sim":24.62},{"year":1973.45,"sim":24.66},{"year":1973.50,"sim":24.41},{"year":1973.56,"sim":24.12},{"year":1973.62,"sim":23.97},{"year":1973.68,"sim":23.83},{"year":1973.73,"sim":23.69},{"year":1973.79,"sim":23.58},{"year":1973.85,"sim":23.61},{"year":1973.91,"sim":23.69},{"year":1973.96,"sim":23.83},{"year":1974.02,"sim":23.97},{"year":1974.08,"sim":24.12},{"year":1974.14,"sim":24.41},{"year":1974.19,"sim":24.66},{"year":1974.25,"sim":24.55},{"year":1974.31,"sim":24.41},{"year":1974.37,"sim":24.19},{"year":1974.42,"sim":24.19},{"year":1974.48,"sim":24.26},{"year":1974.54,"sim":24.19},{"year":1974.59,"sim":24.33},{"year":1974.65,"sim":24.19},{"year":1974.71,"sim":24.05},{"year":1974.77,"sim":23.97},{"year":1974.82,"sim":24.48},{"year":1974.88,"sim":24.91},{"year":1974.94,"sim":24.98},{"year":1975.00,"sim":25.56},{"year":1975.03,"sim":26.06},{"year":1975.08,"sim":26.53},{"year":1975.12,"sim":25.92},{"year":1975.17,"sim":25.49},{"year":1975.23,"sim":25.20},{"year":1975.28,"sim":25.13},{"year":1975.34,"sim":25.13},{"year":1975.40,"sim":24.98},{"year":1975.45,"sim":24.55},{"year":1975.51,"sim":24.48},{"year":1975.57,"sim":24.62},{"year":1975.63,"sim":24.41},{"year":1975.68,"sim":24.19},{"year":1975.74,"sim":24.05},{"year":1975.80,"sim":23.97},{"year":1975.86,"sim":23.90},{"year":1975.91,"sim":23.94},{"year":1975.97,"sim":23.97},{"year":1976.03,"sim":24.12},{"year":1976.09,"sim":24.62},{"year":1976.14,"sim":25.56},{"year":1976.20,"sim":25.27},{"year":1976.26,"sim":24.98},{"year":1976.31,"sim":24.69},{"year":1976.37,"sim":24.41},{"year":1976.43,"sim":24.12},{"year":1976.49,"sim":23.90},{"year":1976.54,"sim":23.76},{"year":1976.60,"sim":23.65},{"year":1976.66,"sim":23.61},{"year":1976.72,"sim":23.58},{"year":1976.77,"sim":23.61},
{"year":1976.83,"sim":23.65,"obs":23.83},{"year":1976.89,"sim":23.76,"obs":23.90},{"year":1976.95,"sim":23.83,"obs":24.01},{"year":1977.00,"sim":23.90,"obs":24.19},{"year":1977.06,"sim":24.05,"obs":24.33},{"year":1977.12,"sim":24.19,"obs":24.62},{"year":1977.17,"sim":24.55,"obs":24.91},{"year":1977.23,"sim":24.77,"obs":25.27},{"year":1977.29,"sim":24.98,"obs":24.95},{"year":1977.35,"sim":24.69,"obs":24.77},{"year":1977.40,"sim":24.48,"obs":24.62},{"year":1977.46,"sim":24.33,"obs":24.44},{"year":1977.52,"sim":24.19,"obs":24.33},{"year":1977.58,"sim":24.48,"obs":24.26},{"year":1977.63,"sim":24.69,"obs":24.48},{"year":1977.69,"sim":24.91,"obs":24.84},{"year":1977.75,"sim":25.05,"obs":24.91},{"year":1977.81,"sim":24.91,"obs":24.98},{"year":1977.86,"sim":24.98,"obs":24.98},{"year":1977.92,"sim":24.91,"obs":24.98},{"year":1977.98,"sim":25.05,"obs":24.91},{"year":1978.03,"sim":24.91,"obs":24.98},{"year":1978.09,"sim":25.05,"obs":24.84},{"year":1978.15,"sim":24.98,"obs":24.69},{"year":1978.21,"sim":25.05,"obs":25.05},{"year":1978.26,"sim":24.98,"obs":25.13},{"year":1978.32,"sim":25.09,"obs":25.05},{"year":1978.38,"sim":25.05,"obs":24.98},{"year":1978.44,"sim":24.98,"obs":25.05},{"year":1978.49,"sim":24.91,"obs":24.98},{"year":1978.55,"sim":24.84,"obs":24.73},{"year":1978.61,"sim":24.48,"obs":24.55},{"year":1978.67,"sim":24.33,"obs":24.48},{"year":1978.72,"sim":24.26,"obs":24.62},{"year":1978.78,"sim":24.48,"obs":24.48},{"year":1978.84,"sim":24.62,"obs":24.55},{"year":1978.89,"sim":24.55,"obs":24.62},{"year":1978.95,"sim":24.55,"obs":24.62},{"year":1979.01,"sim":24.69,"obs":24.77},{"year":1979.07,"sim":24.77,"obs":24.80},{"year":1979.12,"sim":24.80,"obs":24.84},{"year":1979.18,"sim":25.05,"obs":25.20},{"year":1979.24,"sim":25.70,"obs":25.77},{"year":1979.30,"sim":26.13,"obs":25.63},{"year":1979.35,"sim":26.42,"obs":25.41},{"year":1979.41,"sim":26.06,"obs":25.20},{"year":1979.47,"sim":25.56,"obs":24.91},{"year":1979.53,"sim":24.98,"obs":24.62},{"year":1979.58,"sim":24.62,"obs":24.48},{"year":1979.64,"sim":24.33,"obs":24.33},{"year":1979.70,"sim":24.19,"obs":24.19},{"year":1979.76,"sim":24.05,"obs":24.08},{"year":1979.81,"sim":24.01,"obs":24.05},{"year":1979.87,"sim":24.12,"obs":24.12},{"year":1979.93,"sim":24.33,"obs":24.26},{"year":1979.98,"sim":24.62,"obs":24.48},{"year":1980.04,"sim":25.05,"obs":24.62},{"year":1980.10,"sim":25.27,"obs":24.84},{"year":1980.16,"sim":25.49,"obs":25.27},{"year":1980.21,"sim":25.27,"obs":25.45},{"year":1980.27,"sim":25.56,"obs":25.41},{"year":1980.33,"sim":25.13,"obs":25.20},{"year":1980.39,"sim":25.49,"obs":24.98},{"year":1980.44,"sim":25.92,"obs":25.20},{"year":1980.50,"sim":25.27,"obs":24.98},{"year":1980.56,"sim":25.05,"obs":24.91},{"year":1980.61,"sim":24.91,"obs":24.87},{"year":1980.67,"sim":24.69,"obs":24.77},{"year":1980.73,"sim":24.69,"obs":24.77},{"year":1980.79,"sim":24.62,"obs":24.62},{"year":1980.84,"sim":24.55,"obs":24.69},{"year":1980.90,"sim":24.77,"obs":24.77},{"year":1980.96,"sim":24.98,"obs":24.84},{"year":1981.02,"sim":25.13,"obs":24.98},{"year":1981.07,"sim":25.20,"obs":25.20},{"year":1981.13,"sim":25.56,"obs":25.34},{"year":1981.19,"sim":25.77,"obs":25.74},{"year":1981.25,"sim":26.13,"obs":25.77},{"year":1981.29,"sim":26.28,"obs":25.70},{"year":1981.34,"sim":25.85,"obs":25.49},{"year":1981.38,"sim":25.56,"obs":25.34},{"year":1981.43,"sim":25.27,"obs":25.20},{"year":1981.48,"sim":24.98,"obs":25.05},{"year":1981.53,"sim":24.77,"obs":24.84},{"year":1981.59,"sim":24.98,"obs":24.48},{"year":1981.65,"sim":25.20,"obs":25.05},{"year":1981.70,"sim":25.13,"obs":25.20},{"year":1981.76,"sim":24.98,"obs":24.98},{"year":1981.82,"sim":24.91,"obs":25.13},{"year":1981.88,"sim":25.20,"obs":25.34},{"year":1981.93,"sim":25.41,"obs":25.59},{"year":1981.99,"sim":25.92,"obs":25.70},{"year":1982.05,"sim":26.21,"obs":25.63},{"year":1982.09,"sim":26.42,"obs":25.59},{"year":1982.14,"sim":26.21,"obs":25.49},{"year":1982.19,"sim":25.92,"obs":25.41},{"year":1982.25,"sim":25.70,"obs":25.27},{"year":1982.33,"sim":25.56,"obs":25.05},{"year":1982.39,"sim":25.20,"obs":24.91},{"year":1982.45,"sim":24.84,"obs":24.69},{"year":1982.51,"sim":24.48,"obs":24.48},{"year":1982.56,"sim":24.19,"obs":24.26},{"year":1982.62,"sim":23.97,"obs":24.05},{"year":1982.68,"sim":23.83,"obs":23.94},{"year":1982.74,"sim":23.79,"obs":23.90},{"year":1982.79,"sim":23.79,"obs":23.87},{"year":1982.85,"sim":23.79,"obs":23.90},{"year":1982.91,"sim":23.83,"obs":23.97},{"year":1982.97,"sim":23.97,"obs":24.12},{"year":1983.02,"sim":24.19,"obs":24.33},{"year":1983.08,"sim":24.48,"obs":24.55},{"year":1983.14,"sim":24.69,"obs":24.69},{"year":1983.20,"sim":24.91,"obs":24.87},{"year":1983.25,"sim":25.05,"obs":24.95},
{"year":1983.31,"sim":24.91,"obs":25.20},{"year":1983.37,"sim":24.62,"obs":24.84},{"year":1983.42,"sim":24.33,"obs":24.33},{"year":1983.48,"sim":24.12,"obs":24.26},{"year":1983.54,"sim":23.90,"obs":24.19},{"year":1983.60,"sim":23.83,"obs":24.33},{"year":1983.65,"sim":24.05,"obs":24.26},{"year":1983.71,"sim":24.26,"obs":24.19},{"year":1983.77,"sim":24.41,"obs":24.26},{"year":1983.83,"sim":24.48,"obs":24.19},{"year":1983.88,"sim":24.19,"obs":24.12},{"year":1983.94,"sim":23.90,"obs":24.05},{"year":1984.00,"sim":23.76,"obs":24.19},{"year":1984.06,"sim":23.83,"obs":24.69},{"year":1984.11,"sim":24.12,"obs":24.84},{"year":1984.17,"sim":24.48,"obs":24.87},{"year":1984.23,"sim":24.62,"obs":24.84},{"year":1984.28,"sim":24.69,"obs":24.69},{"year":1984.34,"sim":24.69,"obs":24.66},{"year":1984.40,"sim":24.62,"obs":24.62},{"year":1984.46,"sim":24.48,"obs":24.48},{"year":1984.51,"sim":24.26,"obs":24.33},{"year":1984.57,"sim":24.05,"obs":24.19},{"year":1984.63,"sim":23.90,"obs":24.26},{"year":1984.69,"sim":23.97,"obs":24.41},{"year":1984.74,"sim":24.12,"obs":24.33},{"year":1984.80,"sim":24.19,"obs":24.26},{"year":1984.86,"sim":24.26,"obs":24.19},{"year":1984.91,"sim":24.33,"obs":24.26},{"year":1984.97,"sim":24.48,"obs":24.33},{"year":1985.03,"sim":24.77,"obs":24.48},{"year":1985.06,"sim":24.98,"obs":25.05},{"year":1985.11,"sim":25.05,"obs":25.27},{"year":1985.16,"sim":25.02,"obs":24.98},{"year":1985.20,"sim":24.91,"obs":24.91},{"year":1985.26,"sim":24.77,"obs":24.77},{"year":1985.32,"sim":24.69,"obs":24.66},{"year":1985.37,"sim":24.55,"obs":24.55},{"year":1985.43,"sim":24.41,"obs":24.41},{"year":1985.49,"sim":24.26,"obs":24.26},{"year":1985.55,"sim":24.12,"obs":24.19},{"year":1985.60,"sim":23.97,"obs":24.05},{"year":1985.66,"sim":23.83,"obs":23.97},{"year":1985.72,"sim":23.90,"obs":23.90},{"year":1985.78,"sim":24.05,"obs":23.97},{"year":1985.83,"sim":24.26,"obs":24.05},{"year":1985.89,"sim":24.48,"obs":24.33},{"year":1985.95,"sim":24.77,"obs":24.55},{"year":1986.00,"sim":25.20,"obs":24.84},{"year":1986.06,"sim":25.34,"obs":25.23},{"year":1986.12,"sim":25.20,"obs":25.16},{"year":1986.18,"sim":25.27,"obs":25.23},{"year":1986.23,"sim":25.05,"obs":25.41},{"year":1986.29,"sim":25.27,"obs":25.20},{"year":1986.35,"sim":25.34,"obs":25.13},{"year":1986.41,"sim":25.41,"obs":25.34},{"year":1986.46,"sim":25.05,"obs":25.56},{"year":1986.52,"sim":24.48,"obs":24.69},{"year":1986.58,"sim":24.26,"obs":24.33},{"year":1986.64,"sim":24.33,"obs":24.26},{"year":1986.69,"sim":24.26,"obs":24.33},{"year":1986.75,"sim":24.19,"obs":24.26},{"year":1986.81,"sim":24.33,"obs":24.26},{"year":1986.86,"sim":24.19,"obs":24.33},{"year":1986.92,"sim":24.26,"obs":24.26},{"year":1986.98,"sim":24.62,"obs":24.69},{"year":1987.04,"sim":25.92,"obs":25.63},{"year":1987.09,"sim":26.28,"obs":25.85},{"year":1987.15,"sim":26.21,"obs":25.77},{"year":1987.21,"sim":26.35,"obs":25.63},{"year":1987.27,"sim":26.42,"obs":25.49},{"year":1987.32,"sim":26.57,"obs":25.34},{"year":1987.36,"sim":26.21,"obs":25.27},{"year":1987.40,"sim":25.92,"obs":25.16},{"year":1987.45,"sim":25.63,"obs":25.05},{"year":1987.50,"sim":25.34,"obs":24.98},{"year":1987.55,"sim":25.13,"obs":24.91},{"year":1987.61,"sim":24.91,"obs":24.84},{"year":1987.67,"sim":24.77,"obs":24.77},{"year":1987.73,"sim":24.62,"obs":24.69},{"year":1987.78,"sim":24.55,"obs":24.62},{"year":1987.84,"sim":24.41,"obs":24.55},{"year":1987.90,"sim":24.33,"obs":24.62},{"year":1987.95,"sim":24.48,"obs":24.69},{"year":1988.01,"sim":24.77,"obs":24.77},{"year":1988.07,"sim":25.05,"obs":24.84},{"year":1988.13,"sim":25.27,"obs":24.98},{"year":1988.18,"sim":25.49,"obs":25.49},{"year":1988.24,"sim":25.92,"obs":25.92},{"year":1988.30,"sim":26.42,"obs":25.63},{"year":1988.33,"sim":26.64,"obs":25.41},{"year":1988.37,"sim":26.21,"obs":25.20},{"year":1988.41,"sim":25.56,"obs":24.91},{"year":1988.47,"sim":25.05,"obs":24.69},{"year":1988.53,"sim":24.77,"obs":24.55},{"year":1988.58,"sim":24.48,"obs":24.41},{"year":1988.64,"sim":24.33,"obs":24.26},{"year":1988.70,"sim":24.19,"obs":24.19},{"year":1988.76,"sim":24.05,"obs":24.12},{"year":1988.81,"sim":23.97,"obs":24.05},{"year":1988.87,"sim":23.90,"obs":24.12},{"year":1988.93,"sim":24.33,"obs":24.33},{"year":1988.99,"sim":24.98,"obs":25.13},{"year":1989.02,"sim":25.20,"obs":25.27},{"year":1989.07,"sim":25.02,"obs":24.98},{"year":1989.10,"sim":24.84,"obs":24.84},{"year":1989.16,"sim":24.77,"obs":24.77},{"year":1989.22,"sim":24.69,"obs":24.69},{"year":1989.27,"sim":24.55,"obs":24.55},{"year":1989.33,"sim":24.41,"obs":24.41},{"year":1989.39,"sim":24.26,"obs":24.26},{"year":1989.45,"sim":24.12,"obs":24.12},{"year":1989.50,"sim":24.05,"obs":23.97},{"year":1989.56,"sim":23.90,"obs":23.90},{"year":1989.62,"sim":23.83,"obs":23.83},{"year":1989.67,"sim":23.79,"obs":23.83},{"year":1989.73,"sim":23.83,"obs":23.90},{"year":1989.79,"sim":23.97,"obs":24.05},{"year":1989.85,"sim":24.12,"obs":24.19},{"year":1989.90,"sim":24.33,"obs":24.41},{"year":1989.96,"sim":24.48,"obs":24.55},{"year":1990.02,"sim":24.69,"obs":24.69},{"year":1990.08,"sim":24.84,"obs":24.84},{"year":1990.13,"sim":25.13,"obs":24.98},{"year":1990.18,"sim":25.13,"obs":25.05},{"year":1990.22,"sim":24.91,"obs":24.91},{"year":1990.27,"sim":24.62,"obs":24.62},{"year":1990.32,"sim":24.44,"obs":24.41},{"year":1990.36,"sim":24.26,"obs":24.33},{"year":1990.42,"sim":24.05,"obs":24.19},{"year":1990.48,"sim":23.90,"obs":24.05},{"year":1990.53,"sim":23.83,"obs":23.97},{"year":1990.59,"sim":23.76,"obs":23.90},{"year":1990.65,"sim":23.72,"obs":23.83},{"year":1990.71,"sim":23.72,"obs":23.76},{"year":1990.76,"sim":23.76,"obs":23.76},{"year":1990.82,"sim":23.83,"obs":23.83},{"year":1990.88,"sim":23.97,"obs":23.97},{"year":1990.94,"sim":24.19,"obs":24.19},{"year":1990.99,"sim":24.55,"obs":24.41},{"year":1991.05,"sim":24.62,"obs":24.62},{"year":1991.11,"sim":24.55,"obs":24.69},{"year":1991.16,"sim":24.48,"obs":24.62},{"year":1991.22,"sim":24.41,"obs":24.55},{"year":1991.28,"sim":24.33,"obs":24.55},{"year":1991.34,"sim":24.33,"obs":24.48},{"year":1991.39,"sim":24.19,"obs":24.41},{"year":1991.45,"sim":24.05,"obs":24.26},{"year":1991.51,"sim":23.90,"obs":24.05},{"year":1991.57,"sim":23.79,"obs":23.97},{"year":1991.62,"sim":23.76,"obs":23.90},{"year":1991.68,"sim":23.72,"obs":23.83},{"year":1991.74,"sim":23.69,"obs":23.79},{"year":1991.80,"sim":23.76,"obs":23.79},{"year":1991.85,"sim":23.83,"obs":23.90},{"year":1991.91,"sim":23.97,"obs":24.05},{"year":1991.97,"sim":24.19,"obs":24.33},{"year":1992.03,"sim":24.48,"obs":24.69},{"year":1992.08,"sim":24.84,"obs":25.05},{"year":1992.14,"sim":25.20,"obs":25.20},{"year":1992.20,"sim":25.34,"obs":25.34},{"year":1992.25,"sim":25.41,"obs":25.27},{"year":1992.31,"sim":24.98,"obs":24.98},{"year":1992.37,"sim":24.62,"obs":24.69},{"year":1992.43,"sim":24.33,"obs":24.48},{"year":1992.48,"sim":24.05,"obs":24.26},{"year":1992.54,"sim":23.90,"obs":24.05},{"year":1992.60,"sim":23.83,"obs":23.97},{"year":1992.66,"sim":23.76,"obs":23.90},{"year":1992.71,"sim":23.79,"obs":23.90},{"year":1992.77,"sim":23.90,"obs":23.97},{"year":1992.83,"sim":24.05,"obs":24.12},{"year":1992.89,"sim":24.26,"obs":24.33},{"year":1992.94,"sim":24.48,"obs":24.48},{"year":1993.00,"sim":24.62,"obs":24.62},{"year":1993.06,"sim":24.77,"obs":24.77},{"year":1993.11,"sim":24.91,"obs":24.84},{"year":1993.17,"sim":24.91,"obs":24.91},{"year":1993.23,"sim":24.98,"obs":24.98},{"year":1993.29,"sim":24.91,"obs":24.84},{"year":1993.34,"sim":24.62,"obs":24.62},{"year":1993.40,"sim":24.41,"obs":24.48},{"year":1993.46,"sim":24.19,"obs":24.33},{"year":1993.52,"sim":24.05,"obs":24.19},{"year":1993.57,"sim":23.97,"obs":24.12},{"year":1993.63,"sim":23.90,"obs":24.05},{"year":1993.69,"sim":23.87,"obs":24.12},{"year":1993.75,"sim":23.97,"obs":24.19},{"year":1993.80,"sim":24.12,"obs":24.19},{"year":1993.86,"sim":24.33,"obs":24.48},{"year":1993.92,"sim":24.98,"obs":25.20},{"year":1993.98,"sim":25.63,"obs":25.56},{"year":1994.03,"sim":25.92,"obs":25.67},{"year":1994.09,"sim":25.99,"obs":25.60},{"year":1994.15,"sim":25.70,"obs":25.34},{"year":1994.20,"sim":25.85,"obs":25.63},{"year":1994.26,"sim":26.13,"obs":25.70},{"year":1994.32,"sim":26.31,"obs":25.56},{"year":1994.38,"sim":25.92,"obs":25.20},{"year":1994.43,"sim":25.41,"obs":24.84},{"year":1994.49,"sim":24.91,"obs":24.62},{"year":1994.55,"sim":24.48,"obs":24.55},{"year":1994.61,"sim":24.19,"obs":24.48},{"year":1994.66,"sim":24.05,"obs":24.41},{"year":1994.72,"sim":24.01,"obs":24.48},{"year":1994.78,"sim":24.01,"obs":24.62},{"year":1994.83,"sim":24.12,"obs":24.69},{"year":1994.89,"sim":24.48,"obs":24.62},{"year":1994.95,"sim":24.98,"obs":24.98},{"year":1995.01,"sim":25.56,"obs":25.20},{"year":1995.06,"sim":25.77,"obs":25.63},{"year":1995.12,"sim":25.92,"obs":25.77},{"year":1995.18,"sim":25.70,"obs":25.63},{"year":1995.24,"sim":25.85,"obs":25.49},{"year":1995.29,"sim":25.49,"obs":25.63},{"year":1995.35,"sim":25.70,"obs":25.34},{"year":1995.41,"sim":25.34,"obs":25.34},{"year":1995.47,"sim":25.63,"obs":25.20},{"year":1995.53,"sim":25.41,"obs":24.98},{"year":1995.58,"sim":25.13,"obs":24.77},{"year":1995.64,"sim":24.77,"obs":24.62},{"year":1995.70,"sim":24.48,"obs":24.62},{"year":1995.75,"sim":24.62,"obs":24.55},{"year":1995.81,"sim":24.55,"obs":24.62}
]
},
"vconcat": [
{
 "width": 727, "height": 291,
 "data": {"name": "elbe"},
 "resolve": {"axis": {"x": "independent"}},
 "layer": [
  {"mark": {"type": "line", "color": "black", "strokeWidth": 1.2},
   "encoding": {
    "x": {"field": "year", "type": "quantitative", "scale": {"domain": [1970.8333, 1995.8333], "nice": false, "zero": false},
     "axis": {"values": [1970.8333,1971.8333,1972.8333,1973.8333,1974.8333,1975.8333,1976.8333,1977.8333,1978.8333,1979.8333,1980.8333,1981.8333,1982.8333,1983.8333,1984.8333,1985.8333,1986.8333,1987.8333,1988.8333,1989.8333,1990.8333,1991.8333,1992.8333,1993.8333,1994.8333,1995.8333],
      "labelExpr": "round(datum.value - 1970.8333) % 5 === 0 ? '01.11.' + slice(toString(floor(datum.value)), 2) : ''",
      "tickSize": 7, "labelFontSize": 23.5, "labelPadding": 17, "labelOverlap": false, "labelFlush": false, "labelBound": false, "labelAngle": 0, "title": null}},
    "y": {"field": "level", "type": "quantitative", "scale": {"domain": [23, 29], "nice": false, "zero": false},
     "axis": {"values": [23,23.5,24,24.5,25,25.5,26,26.5,27,27.5,28,28.5,29], "labelExpr": "datum.value % 1 === 0 ? datum.label : ''",
      "tickSize": {"condition": {"test": "datum.value % 1 !== 0", "value": 4}, "value": 8},
      "labelFontSize": 22, "labelPadding": 12, "labelOverlap": false, "labelBound": false,
      "title": "water level Elbe [m\u00a0 asl]", "titleFontSize": 23.5, "titleFontWeight": "bold", "titlePadding": 11}},
    "color": {"datum": "gauge Havelberg-EP observed", "type": "nominal", "scale": {"range": ["black"]},
     "legend": {"orient": "none", "legendX": 38, "legendY": 7, "symbolType": "stroke", "symbolSize": 420, "symbolStrokeWidth": 1, "labelFontSize": 23.5, "labelOffset": 8, "labelLimit": 0, "title": null, "padding": 0}}
   }},
  {"data": {"values": [{"x1": 1984.70, "y1": 26.90, "x2": 1985.96, "y2": 28.42}]},
   "mark": {"type": "rule", "color": "black", "strokeWidth": 0.8},
   "encoding": {"x": {"field": "x1", "type": "quantitative", "axis": null}, "x2": {"field": "x2"}, "y": {"field": "y1", "type": "quantitative"}, "y2": {"field": "y2"}}},
  {"data": {"values": [{"year": 1984.68, "low": 23.14, "high": 27.92}]},
   "mark": {"type": "rule", "color": "black", "strokeWidth": 4.5},
   "encoding": {"x": {"field": "year", "type": "quantitative",
     "axis": {"orient": "bottom", "values": [1970.8333,1975.8333,1980.8333,1985.8333,1990.8333,1995.8333], "offset": -7, "tickSize": 7, "domain": false, "labels": false, "title": null, "grid": false}},
    "y": {"field": "low", "type": "quantitative"}, "y2": {"field": "high"}}},
  {"data": {"values": [{"year": 1984.68, "tip": 27.92}]},
   "mark": {"type": "point", "shape": "M0,-1L1,1L-1,1Z", "filled": true, "size": 196, "color": "black", "opacity": 1},
   "encoding": {"x": {"field": "year", "type": "quantitative", "axis": null}, "y": {"field": "tip", "type": "quantitative"}}},
  {"data": {"values": [{"year": 1984.68, "tip": 23.14}]},
   "mark": {"type": "point", "shape": "M0,1L1,-1L-1,-1Z", "filled": true, "size": 196, "color": "black", "opacity": 1},
   "encoding": {"x": {"field": "year", "type": "quantitative", "axis": null}, "y": {"field": "tip", "type": "quantitative"}}},
  {"data": {"values": [{"x1": 1985.06, "x2": 1990.12, "y1": 28.42, "y2": 28.73}]},
   "mark": {"type": "rect", "fill": "white", "stroke": "black", "strokeWidth": 1},
   "encoding": {"x": {"field": "x1", "type": "quantitative", "axis": null}, "x2": {"field": "x2"}, "y": {"field": "y1", "type": "quantitative"}, "y2": {"field": "y2"}}},
  {"data": {"values": [{"year": 1985.06, "y": 28.575, "text": "amplitude: ~ 5.2 m"}]},
   "mark": {"type": "text", "align": "left", "baseline": "middle", "dx": 3, "fontSize": 16.5, "color": "black"},
   "encoding": {"x": {"field": "year", "type": "quantitative", "axis": null}, "y": {"field": "y", "type": "quantitative"}, "text": {"field": "text"}}}
 ]
},
{
 "width": 727, "height": 277,
 "data": {"name": "gw2906"},
 "resolve": {"axis": {"x": "independent"}},
 "layer": [
  {"data": {"values": [{"ground": 29.37}]},
   "mark": {"type": "rule", "color": "black", "strokeWidth": 1, "strokeDash": [10, 3, 2, 3]},
   "encoding": {"y": {"field": "ground", "type": "quantitative", "scale": {"domain": [24, 30], "nice": false, "zero": false},
     "axis": {"values": [24,24.5,25,25.5,26,26.5,27,27.5,28,28.5,29,29.5,30], "labelExpr": "datum.value % 1 === 0 ? datum.label : ''",
      "tickSize": {"condition": {"test": "datum.value % 1 !== 0", "value": 4}, "value": 8},
      "labelFontSize": 22, "labelPadding": 12, "labelOverlap": false, "labelBound": false,
      "title": "piecometric head [m\u00a0 asl]", "titleFontSize": 23.5, "titleFontWeight": "bold", "titlePadding": 11}}}},
  {"mark": {"type": "line", "color": "#1a1a1a", "strokeWidth": 0.8},
   "encoding": {
    "x": {"field": "year", "type": "quantitative", "scale": {"domain": [1970.8333, 1995.8333], "nice": false, "zero": false},
     "axis": {"values": [1970.8333,1971.8333,1972.8333,1973.8333,1974.8333,1975.8333,1976.8333,1977.8333,1978.8333,1979.8333,1980.8333,1981.8333,1982.8333,1983.8333,1984.8333,1985.8333,1986.8333,1987.8333,1988.8333,1989.8333,1990.8333,1991.8333,1992.8333,1993.8333,1994.8333,1995.8333],
      "labelExpr": "round(datum.value - 1970.8333) % 5 === 0 ? '01.11.' + slice(toString(floor(datum.value)), 2) : ''",
      "tickSize": 7, "labelFontSize": 23.5, "labelPadding": 17, "labelOverlap": false, "labelFlush": false, "labelBound": false, "labelAngle": 0, "title": null}},
    "y": {"field": "sim", "type": "quantitative"}
   }},
  {"transform": [{"filter": "isValid(datum.obs)"}],
   "mark": {"type": "point", "filled": false, "size": 420, "strokeWidth": 0.8, "color": "black", "opacity": 1},
   "encoding": {"x": {"field": "year", "type": "quantitative", "axis": null}, "y": {"field": "obs", "type": "quantitative"},
    "shape": {"datum": "GW2906 observed", "type": "nominal", "scale": {"domain": ["GW2906 simulated", "GW2906 observed"], "range": ["stroke", "M0.25,0A0.25,0.25 0 1,1 -0.25,0A0.25,0.25 0 1,1 0.25,0Z"]},
     "legend": {"orient": "none", "legendX": 59, "legendY": 39, "symbolSize": 420, "symbolStrokeWidth": 1, "symbolStrokeColor": "black", "symbolFillColor": "transparent", "labelFontSize": 23.5, "labelOffset": 7, "labelLimit": 0, "rowPadding": 15, "title": null, "padding": 0}}}},
  {"data": {"values": [{"label": "top ground surface", "year": 1995.40, "y": 29.57}]},
   "mark": {"type": "text", "align": "right", "baseline": "alphabetic", "fontSize": 16.5, "color": "black"},
   "encoding": {"x": {"field": "year", "type": "quantitative", "axis": null}, "y": {"field": "y", "type": "quantitative"}, "text": {"field": "label"}}},
  {"data": {"values": [{"x1": 1984.79, "y1": 27.02, "x2": 1986.34, "y2": 28.14}]},
   "mark": {"type": "rule", "color": "black", "strokeWidth": 0.8},
   "encoding": {"x": {"field": "x1", "type": "quantitative", "axis": null}, "x2": {"field": "x2"}, "y": {"field": "y1", "type": "quantitative"}, "y2": {"field": "y2"}}},
  {"data": {"values": [{"year": 1984.72, "low": 24.51, "high": 27.70}]},
   "mark": {"type": "rule", "color": "black", "strokeWidth": 4.5},
   "encoding": {"x": {"field": "year", "type": "quantitative",
     "axis": {"orient": "bottom", "values": [1970.8333,1975.8333,1980.8333,1985.8333,1990.8333,1995.8333], "offset": -7, "tickSize": 7, "domain": false, "labels": false, "title": null, "grid": false}},
    "y": {"field": "low", "type": "quantitative"}, "y2": {"field": "high"}}},
  {"data": {"values": [{"year": 1984.72, "tip": 27.70}]},
   "mark": {"type": "point", "shape": "M0,-1L1,1L-1,1Z", "filled": true, "size": 210, "color": "black", "opacity": 1},
   "encoding": {"x": {"field": "year", "type": "quantitative", "axis": null}, "y": {"field": "tip", "type": "quantitative"}}},
  {"data": {"values": [{"year": 1984.72, "tip": 24.51}]},
   "mark": {"type": "point", "shape": "M0,1L1,-1L-1,-1Z", "filled": true, "size": 210, "color": "black", "opacity": 1},
   "encoding": {"x": {"field": "year", "type": "quantitative", "axis": null}, "y": {"field": "tip", "type": "quantitative"}}},
  {"data": {"values": [{"x1": 1985.22, "x2": 1991.90, "y1": 28.14, "y2": 29.07}]},
   "mark": {"type": "rect", "fill": "white", "stroke": "black", "strokeWidth": 1},
   "encoding": {"x": {"field": "x1", "type": "quantitative", "axis": null}, "x2": {"field": "x2"}, "y": {"field": "y1", "type": "quantitative"}, "y2": {"field": "y2"}}},
  {"data": {"values": [{"year": 1985.22, "y": 28.84, "text": "amplitude: ~ 3.0 m"}, {"year": 1985.22, "y": 28.39, "text": "distance to river: ~1.0 km"}]},
   "mark": {"type": "text", "align": "left", "baseline": "middle", "dx": 3, "fontSize": 16.5, "color": "black"},
   "encoding": {"x": {"field": "year", "type": "quantitative", "axis": null}, "y": {"field": "y", "type": "quantitative"}, "text": {"field": "text"}}}
 ]
},
{
 "width": 727, "height": 278,
 "data": {"name": "gw0006"},
 "resolve": {"axis": {"x": "independent"}},
 "layer": [
  {"data": {"values": [{"ground": 26.95}]},
   "mark": {"type": "rule", "color": "black", "strokeWidth": 1, "strokeDash": [10, 3, 2, 3]},
   "encoding": {"y": {"field": "ground", "type": "quantitative", "scale": {"domain": [23, 29], "nice": false, "zero": false},
     "axis": {"values": [23,23.5,24,24.5,25,25.5,26,26.5,27,27.5,28,28.5,29], "labelExpr": "datum.value % 1 === 0 ? datum.label : ''",
      "tickSize": {"condition": {"test": "datum.value % 1 !== 0", "value": 4}, "value": 8},
      "labelFontSize": 22, "labelPadding": 12, "labelOverlap": false, "labelBound": false,
      "title": "piecometric head [m\u00a0 asl]", "titleFontSize": 23.5, "titleFontWeight": "bold", "titlePadding": 11}}}},
  {"mark": {"type": "line", "color": "#1a1a1a", "strokeWidth": 0.8},
   "encoding": {
    "x": {"field": "year", "type": "quantitative", "scale": {"domain": [1970.8333, 1995.8333], "nice": false, "zero": false},
     "axis": {"values": [1970.8333,1971.8333,1972.8333,1973.8333,1974.8333,1975.8333,1976.8333,1977.8333,1978.8333,1979.8333,1980.8333,1981.8333,1982.8333,1983.8333,1984.8333,1985.8333,1986.8333,1987.8333,1988.8333,1989.8333,1990.8333,1991.8333,1992.8333,1993.8333,1994.8333,1995.8333],
      "labelExpr": "round(datum.value - 1970.8333) % 5 === 0 ? '01.11.' + slice(toString(floor(datum.value)), 2) : ''",
      "tickSize": 7, "labelFontSize": 23.5, "labelPadding": 17, "labelOverlap": false, "labelFlush": false, "labelBound": false, "labelAngle": 0,
      "title": "Time [d]", "titleFontSize": 23.5, "titleFontWeight": "bold", "titlePadding": 12}},
    "y": {"field": "sim", "type": "quantitative"}
   }},
  {"transform": [{"filter": "isValid(datum.obs)"}],
   "mark": {"type": "point", "filled": false, "size": 420, "strokeWidth": 0.8, "color": "black", "opacity": 1},
   "encoding": {"x": {"field": "year", "type": "quantitative", "axis": null}, "y": {"field": "obs", "type": "quantitative"},
    "shape": {"datum": "GW0006 observed", "type": "nominal", "scale": {"domain": ["GW0006 simulated", "GW0006 observed"], "range": ["stroke", "M0.25,0A0.25,0.25 0 1,1 -0.25,0A0.25,0.25 0 1,1 0.25,0Z"]},
     "legend": {"orient": "none", "legendX": 59, "legendY": 17, "symbolSize": 420, "symbolStrokeWidth": 1, "symbolStrokeColor": "black", "symbolFillColor": "transparent", "labelFontSize": 23.5, "labelOffset": 7, "labelLimit": 0, "rowPadding": 16, "title": null, "padding": 0}}}},
  {"data": {"values": [{"label": "top ground surface", "year": 1995.17, "y": 27.08}]},
   "mark": {"type": "text", "align": "right", "baseline": "alphabetic", "fontSize": 16.5, "color": "black"},
   "encoding": {"x": {"field": "year", "type": "quantitative", "axis": null}, "y": {"field": "y", "type": "quantitative"}, "text": {"field": "label"}}},
  {"data": {"values": [{"x1": 1984.82, "y1": 26.13, "x2": 1986.34, "y2": 27.70}]},
   "mark": {"type": "rule", "color": "black", "strokeWidth": 0.8},
   "encoding": {"x": {"field": "x1", "type": "quantitative", "axis": null}, "x2": {"field": "x2"}, "y": {"field": "y1", "type": "quantitative"}, "y2": {"field": "y2"}}},
  {"data": {"values": [{"year": 1984.79, "low": 23.80, "high": 26.45}]},
   "mark": {"type": "rule", "color": "black", "strokeWidth": 4.5},
   "encoding": {"x": {"field": "year", "type": "quantitative",
     "axis": {"orient": "bottom", "values": [1970.8333,1975.8333,1980.8333,1985.8333,1990.8333,1995.8333], "offset": -7, "tickSize": 7, "domain": false, "labels": false, "title": null, "grid": false}},
    "y": {"field": "low", "type": "quantitative"}, "y2": {"field": "high"}}},
  {"data": {"values": [{"year": 1984.79, "tip": 26.45}]},
   "mark": {"type": "point", "shape": "M0,-1L1,1L-1,1Z", "filled": true, "size": 210, "color": "black", "opacity": 1},
   "encoding": {"x": {"field": "year", "type": "quantitative", "axis": null}, "y": {"field": "tip", "type": "quantitative"}}},
  {"data": {"values": [{"year": 1984.79, "tip": 23.80}]},
   "mark": {"type": "point", "shape": "M0,1L1,-1L-1,-1Z", "filled": true, "size": 210, "color": "black", "opacity": 1},
   "encoding": {"x": {"field": "year", "type": "quantitative", "axis": null}, "y": {"field": "tip", "type": "quantitative"}}},
  {"data": {"values": [{"x1": 1983.82, "x2": 1990.50, "y1": 27.70, "y2": 28.64}]},
   "mark": {"type": "rect", "fill": "white", "stroke": "black", "strokeWidth": 1},
   "encoding": {"x": {"field": "x1", "type": "quantitative", "axis": null}, "x2": {"field": "x2"}, "y": {"field": "y1", "type": "quantitative"}, "y2": {"field": "y2"}}},
  {"data": {"values": [{"year": 1983.82, "y": 28.40, "text": "amplitude: ~ 2.4 m"}, {"year": 1983.82, "y": 27.97, "text": "distance to river: ~1.8 km"}]},
   "mark": {"type": "text", "align": "left", "baseline": "middle", "dx": 3, "fontSize": 16.5, "color": "black"},
   "encoding": {"x": {"field": "year", "type": "quantitative", "axis": null}, "y": {"field": "y", "type": "quantitative"}, "text": {"field": "text"}}}
 ]
}
]
}
